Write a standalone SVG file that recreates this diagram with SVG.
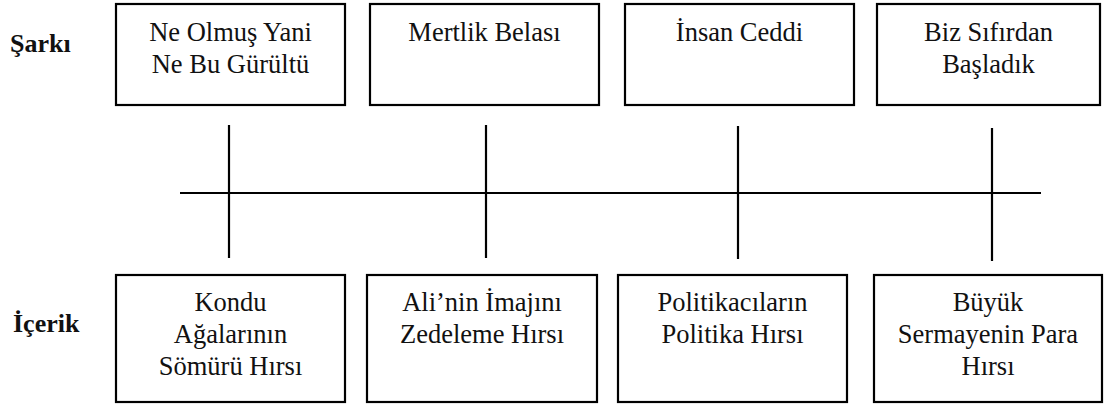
<svg xmlns="http://www.w3.org/2000/svg" width="1111" height="405" viewBox="0 0 1111 405">
  <style>
    .box { fill: #ffffff; stroke: #000000; stroke-width: 2.2; }
    .lbl { font-family: "Liberation Serif", "Times New Roman", serif; font-size: 26.5px; fill: #111111; text-anchor: middle; }
    .row { font-family: "Liberation Serif", "Times New Roman", serif; font-size: 26px; font-weight: bold; fill: #111111; }
    .ln { stroke: #000000; stroke-width: 2.2; fill: none; }
  </style>
  <rect width="1111" height="405" fill="#ffffff"/>

  <!-- row headings -->
  <text id="row-sarki" class="row" x="10" y="52">Şarkı</text>
  <text id="row-icerik" class="row" x="13" y="332">İçerik</text>

  <!-- timeline: axis and ticks -->
  <g id="connectors">
    <line class="ln" x1="180" y1="193" x2="1041" y2="193"/>
    <line class="ln" x1="229" y1="125" x2="229" y2="258"/>
    <line class="ln" x1="486" y1="125" x2="486" y2="258"/>
    <line class="ln" x1="738" y1="126" x2="738" y2="259"/>
    <line class="ln" x1="992" y1="128" x2="992" y2="261"/>
  </g>

  <!-- songs -->
  <g id="song-1">
    <rect class="box" x="116" y="4" width="229" height="101"/>
    <text class="lbl" x="230.5" y="41">Ne Olmuş Yani</text>
    <text class="lbl" x="230.5" y="73">Ne Bu Gürültü</text>
  </g>
  <g id="song-2">
    <rect class="box" x="370" y="4" width="229" height="101"/>
    <text class="lbl" x="484.5" y="41">Mertlik Belası</text>
  </g>
  <g id="song-3">
    <rect class="box" x="625" y="4" width="229" height="101"/>
    <text class="lbl" x="739.5" y="41">İnsan Ceddi</text>
  </g>
  <g id="song-4">
    <rect class="box" x="877" y="4" width="223" height="101"/>
    <text class="lbl" x="988.5" y="41">Biz Sıfırdan</text>
    <text class="lbl" x="988.5" y="73">Başladık</text>
  </g>

  <!-- contents -->
  <g id="content-1">
    <rect class="box" x="116" y="275" width="229" height="127"/>
    <text class="lbl" x="230.5" y="311">Kondu</text>
    <text class="lbl" x="230.5" y="343">Ağalarının</text>
    <text class="lbl" x="230.5" y="375">Sömürü Hırsı</text>
  </g>
  <g id="content-2">
    <rect class="box" x="367" y="275" width="230" height="127"/>
    <text class="lbl" x="482" y="311">Ali’nin İmajını</text>
    <text class="lbl" x="482" y="343">Zedeleme Hırsı</text>
  </g>
  <g id="content-3">
    <rect class="box" x="618" y="275" width="229" height="127"/>
    <text class="lbl" x="732.5" y="311">Politikacıların</text>
    <text class="lbl" x="732.5" y="343">Politika Hırsı</text>
  </g>
  <g id="content-4">
    <rect class="box" x="874" y="275" width="228" height="127"/>
    <text class="lbl" x="988" y="311">Büyük</text>
    <text class="lbl" x="988" y="343">Sermayenin Para</text>
    <text class="lbl" x="988" y="375">Hırsı</text>
  </g>
</svg>
